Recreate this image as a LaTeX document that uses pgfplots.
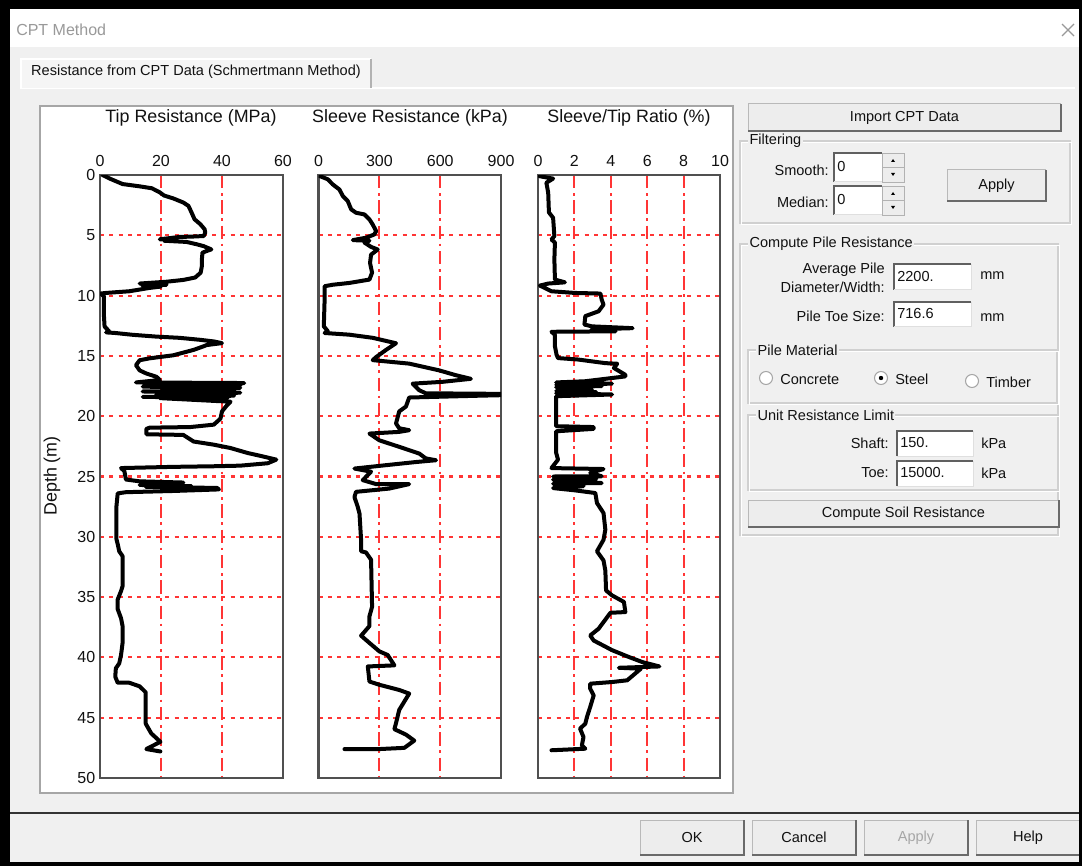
\documentclass[border=0pt]{standalone}
\usepackage{pgfplots}
\pgfplotsset{compat=1.18}
\usepackage{fontspec}
\setmainfont{Liberation Sans}
\definecolor{dlg}{HTML}{F0F0F0}
\definecolor{gridred}{HTML}{FF3535}
\definecolor{frame}{HTML}{505050}
\definecolor{grpline}{HTML}{D0D0D0}
\definecolor{btnface}{HTML}{EDEDED}
\definecolor{btnshadow}{HTML}{6A6A6A}
\definecolor{txt}{HTML}{111111}
\newcommand\dlgf{\fontsize{10.9}{12}\selectfont}
\newcommand\ttlf{\fontsize{13.4}{15}\selectfont}

\newcommand\btn[5]{%
  \fill[btnface] (#1,#2) rectangle (#3,#4);
  \draw[gray!55, line width=0.75pt] (#1,#4) -- (#1,#2) -- (#3,#2);
  \draw[btnshadow, line width=1.5pt] (#1,#4) -- (#3,#4) -- (#3,#2);
  \node[font=\dlgf, text=txt, inner sep=0pt] at ({(#1+#3)/2},{(#2+#4)/2}) {#5};
}
\newcommand\tbox[5]{%
  \fill[white] (#1,#2) rectangle (#3,#4);
  \draw[gray!75!black, line width=1.2pt] (#1,#4) -- (#1,#2) -- (#3,#2);
  \draw[gray!25, line width=0.75pt] (#1,#4) -- (#3,#4) -- (#3,#2);
  \node[font=\dlgf, text=txt, anchor=west, inner sep=0pt] at (#1+3,{(#2+#4)/2-1}) {#5};
}
\newcommand\grp[5]{%
  \draw[grpline, line width=0.9pt] (#1,#2) rectangle (#3,#4);
  \draw[white, line width=0.6pt] (#1+1.2,#2+1.2) rectangle (#3+1.2,#4+1.2);
  \node[font=\dlgf, text=txt, fill=dlg, anchor=west, inner xsep=1pt, inner ysep=0pt] at (#1+8,#2) {#5};
}
\newcommand\spin[3]{%
  \fill[btnface] (#1,#2) rectangle (#1+22,#3);
  \draw[gray!60, line width=0.6pt] (#1,#2) rectangle (#1+22,#3);
  \draw[gray!60, line width=0.6pt] (#1,{(#2+#3)/2}) -- (#1+22,{(#2+#3)/2});
  \fill[black] (#1+9,{#2+9}) -- (#1+13,{#2+9}) -- (#1+11,{#2+6}) -- cycle;
  \fill[black] (#1+9,{#3-9}) -- (#1+13,{#3-9}) -- (#1+11,{#3-6}) -- cycle;
}
\newcommand\radio[4]{%
  \fill[white] (#1,#2) circle (6.5);
  \draw[gray!70, line width=0.8pt] (#1,#2) circle (6.5);
  \ifnum#3=1 \fill[black] (#1,#2) circle (2.2); \fi
  \node[font=\dlgf, text=txt, anchor=west, inner sep=0pt] at (#1+14,#2+1) {#4};
}

\pgfplotsset{
  cptaxis/.style={
    scale only axis,
    anchor=north west,
    height=452.25pt,
    y dir=reverse,
    ymin=0, ymax=50,
    ytick={0,5,...,50},
    xticklabel pos=upper,
    major tick length=0pt,
    axis line style={draw=frame, line width=1.6pt},
    xmajorgrids, ymajorgrids,
    major grid style={draw=gridred, line width=1.6pt},
    x grid style={draw=gridred, line width=1.6pt, dash pattern=on 10pt off 3.5pt on 2pt off 3.5pt},
    y grid style={draw=gridred, line width=1.6pt, dash pattern=on 3pt off 4pt},
    ticklabel style={font=\fontsize{12}{14}\selectfont, text=txt},
    xticklabel style={yshift=3pt},
    /pgf/number format/assume math mode=true,
  },
  cptline/.style={draw=black, mark=none, line width=3pt, line join=round, line cap=round},
}

\begin{document}
\begin{tikzpicture}
\begin{scope}[x=0.75pt, y=-0.75pt]
\path[use as bounding box] (0,0) rectangle (1082,866);
% window background
\fill[dlg] (0,0) rectangle (1082,866);
\fill[white] (10,9) rectangle (1080,47);
\node[font=\fontsize{12}{14}\selectfont, text=gray!80, anchor=west, inner sep=0pt] at (16,30) {CPT Method};
\draw[gray!80, line width=0.9pt] (1062,24) -- (1074,36) (1062,36) -- (1074,24);
% tab
\draw[white, line width=0.8pt] (20,88) -- (1075,88);
\fill[gray!8] (21,59) rectangle (371,88);
\draw[white, line width=0.8pt] (21,88) -- (21,59) -- (371,59);
\draw[gray!60, line width=1.2pt] (371,59) -- (371,88);
\node[font=\dlgf, text=txt, inner sep=0pt] at (196,72) {Resistance from CPT Data (Schmertmann Method)};
% plot panel
\fill[white] (40,106) rectangle (733,793);
\draw[gray!70, line width=0.8pt] (40,106) rectangle (733,793);
% titles
\node[font=\ttlf, text=txt, inner sep=0pt] at (191,118) {Tip Resistance (MPa)};
\node[font=\ttlf, text=txt, inner sep=0pt] at (410,118) {Sleeve Resistance (kPa)};
\node[font=\ttlf, text=txt, inner sep=0pt] at (629,118) {Sleeve/Tip Ratio (\%)};
\node[font=\ttlf, text=txt, inner sep=0pt, rotate=90] at (52,476) {Depth (m)};
% right panel
\btn{748}{104}{1061}{131}{Import CPT Data}
\grp{740}{141}{1070}{223}{Filtering}
\node[font=\dlgf, text=txt, anchor=east, inner sep=0pt] at (829,170) {Smooth:};
\tbox{834}{153}{882}{182}{0}
\spin{882}{153}{182}
\node[font=\dlgf, text=txt, anchor=east, inner sep=0pt] at (829,202) {Median:};
\tbox{834}{186}{882}{215}{0}
\spin{882}{186}{215}
\btn{947}{170}{1046}{201}{Apply}
\grp{740}{244}{1058}{535}{Compute Pile Resistance}
\node[font=\dlgf, text=txt, anchor=east, inner sep=0pt] at (885,270) {Average Pile};
\node[font=\dlgf, text=txt, anchor=east, inner sep=0pt] at (885,287) {Diameter/Width:};
\tbox{894}{264}{971}{290}{2200.}
\node[font=\dlgf, text=txt, anchor=west, inner sep=0pt] at (980,276) {mm};
\node[font=\dlgf, text=txt, anchor=east, inner sep=0pt] at (885,316) {Pile Toe Size:};
\tbox{894}{302}{971}{327}{716.6}
\node[font=\dlgf, text=txt, anchor=west, inner sep=0pt] at (980,318) {mm};
\grp{748}{350}{1057}{403}{Pile Material}
\radio{766}{378}{0}{Concrete}
\radio{881}{378}{1}{Steel}
\radio{972}{381}{0}{Timber}
\grp{748}{415}{1058}{490}{Unit Resistance Limit}
\node[font=\dlgf, text=txt, anchor=east, inner sep=0pt] at (889,443) {Shaft:};
\tbox{897}{431}{973}{456}{150.}
\node[font=\dlgf, text=txt, anchor=west, inner sep=0pt] at (981,443) {kPa};
\node[font=\dlgf, text=txt, anchor=east, inner sep=0pt] at (889,473) {Toe:};
\tbox{897}{461}{973}{486}{15000.}
\node[font=\dlgf, text=txt, anchor=west, inner sep=0pt] at (981,473) {kPa};
\btn{748}{500}{1059}{527}{Compute Soil Resistance}
% bottom
\draw[gray!40!black, line width=2.2pt] (10,813) -- (1080,813);
\btn{640}{820}{744}{855}{OK}
\btn{752}{820}{856}{855}{Cancel}
\fill[btnface] (864,820) rectangle (968,855);
\draw[gray!55, line width=0.75pt] (864,855) -- (864,820) -- (968,820);
\draw[btnshadow, line width=1.5pt] (864,855) -- (968,855) -- (968,820);
\node[font=\dlgf, text=gray!70, inner sep=0pt] at (916,837.5) {Apply};
\btn{976}{820}{1080}{855}{Help}
% outer black frame
\fill[black] (0,0) rectangle (1082,9);
\fill[black] (0,0) rectangle (10,866);
\fill[black] (1079,0) rectangle (1082,866);
\fill[black] (0,862) rectangle (1082,866);
\end{scope}

% ---------- Tip resistance ----------
\begin{axis}[cptaxis, at={(75pt,-131.25pt)}, width=137.25pt,
  xmin=0, xmax=60, xtick={0,20,40,60}]
\addplot[cptline] coordinates {
(0.8,0) (3.5,0.33) (7.4,0.75) (13,0.94) (17,1.1) (19.6,1.44) (21,1.7) (24,1.94) (27.3,2.28) (29,2.56)
(30,3.1) (31,3.67) (32.9,4.08) (34.3,4.5) (34.5,4.78) (34,5.06) (30.7,5.1) (26,5.14) (19.6,5.33) (24,5.4)
(21,5.45) (28.4,5.55) (31.8,5.75) (34,5.9) (36.5,6.17) (35,6.3) (33.6,6.44) (33.4,7.0) (33.4,7.56) (33,8.1)
(31.2,8.5) (27.3,8.7) (21.8,8.85) (13,9.0) (21.8,9.1) (14,9.2) (20,9.25) (16.3,9.36) (9.6,9.64) (1.9,9.78)
(0.2,9.83) (1.3,10.06) (1.3,11.7) (1.5,12.56) (2.4,12.8) (3,12.97) (2,13.05) (5,13.1) (10.7,13.25) (18.5,13.4)
(26,13.5) (33,13.67) (37.3,13.8) (40,13.94) (35,14.1) (34,14.2) (30.7,14.5) (24,14.95) (16.3,15.2) (13,15.36)
(11.8,15.77) (13,16.2) (15.2,16.46) (18.5,16.73) (19.6,17.0) (11.8,17.2) (47.3,17.25) (20,17.35) (46,17.45) (14,17.55)
(46,17.65) (25,17.75) (44,17.85) (14,17.95) (46,18.05) (18.5,18.2) (44,18.3) (14,18.4) (42,18.45) (19.6,18.5)
(42.8,18.8) (41.7,19.07) (40,19.6) (39.5,20.2) (37.3,20.7) (29.6,20.9) (16.3,20.95) (15.2,21.05) (15.2,21.5) (27.3,21.55)
(30.7,22.1) (37.3,22.36) (42.8,22.64) (48.4,23.05) (52.8,23.3) (57.8,23.6) (55,23.9) (46,24.1) (37.3,24.15) (24,24.2)
(6.9,24.3) (8,24.56) (8.5,25.25) (13,25.4) (27.3,25.5) (13,25.7) (30,25.8) (15,25.85) (38.4,25.95) (39,26.07)
(24,26.2) (8.5,26.3) (5.8,26.4) (5.4,27.45) (5.4,30.2) (5.8,30.6) (6.3,31.2) (7.4,31.6) (7.4,34.1) (6.9,34.5)
(5.8,35.2) (5.8,36) (6.9,36.75) (7.4,37.4) (7.4,38.8) (6.9,39.8) (6.3,40.5) (5.2,40.9) (5,41.6) (5.8,42.1)
(9.6,42.1) (13,42.4) (15,42.9) (15,45.5) (16.8,46.3) (19.8,47.0) (15.2,47.6) (19.8,47.8)
};
\end{axis}

% ---------- Sleeve resistance ----------
\begin{axis}[cptaxis, at={(238.9pt,-131.25pt)}, width=136.9pt,
  xmin=0, xmax=900, xtick={0,300,600,900}, yticklabels={}]
\addplot[cptline] coordinates {
(5,0.08) (46,0.36) (70,0.78) (103,1.2) (120,1.75) (144,2.16) (161,2.85) (185,3.13) (226,3.27) (251,3.68)
(267,4.1) (284,4.65) (275,4.93) (234,5.2) (169,5.4) (251,5.45) (226,5.6) (259,5.96) (292,6.18) (259,6.6)
(254,7.3) (264,8.1) (251,8.67) (152,8.95) (70,9.1) (30,9.22) (30,10.33) (26,12.55) (46,12.96) (30,13.1)
(152,13.24) (267,13.5) (382,13.95) (333,14.5) (284,15.1) (267,15.35) (447,15.64) (595,16.2) (677,16.6) (751,16.9)
(611,17.15) (464,17.3) (497,17.85) (529,18.1) (920,18.15) (920,18.25) (792,18.3) (447,18.45) (431,19.2) (398,19.6)
(382,20.6) (398,21) (447,21.16) (398,21.3) (251,21.44) (300,22) (398,22.54) (497,23.1) (529,23.5) (579,23.65)
(480,23.8) (333,24.06) (177,24.34) (259,24.6) (218,25.3) (284,25.63) (447,25.63) (349,26) (185,26.27) (177,26.7)
(193,27.5) (202,28.07) (210,30.3) (210,31.2) (234,31.3) (259,31.9) (264,35.8) (251,36.6) (251,37.4) (210,38.2)
(251,38.8) (300,39.5) (341,39.8) (374,40.66) (243,40.75) (251,42) (300,42.27) (398,42.7) (447,43) (398,44.35)
(382,45.45) (374,45.95) (431,46.4) (472,46.9) (423,47.5) (300,47.6) (128,47.6)
};
\end{axis}

% ---------- Sleeve/Tip ratio ----------
\begin{axis}[cptaxis, at={(403.5pt,-131.25pt)}, width=136.5pt,
  xmin=0, xmax=10, xtick={0,2,4,6,8,10}, yticklabels={}]
\addplot[cptline] coordinates {
(0.09,0.1) (0.83,0.3) (0.46,0.64) (0.56,1.47) (0.6,3.1) (0.83,3.55) (0.9,5.07) (0.74,5.35) (0.93,5.6) (0.9,7)
(0.93,8.67) (1.48,8.9) (0.56,9.0) (0.1,9.17) (0.37,9.36) (0.74,9.64) (2.04,9.78) (3.43,9.83) (3.5,10.33) (3.6,10.75)
(3.33,11.3) (2.6,11.7) (2.55,12.4) (2.96,12.55) (5.2,12.7) (2.96,12.8) (4.26,12.96) (0.74,13.0) (0.93,13.24) (0.93,14.2)
(1.02,14.9) (1.1,15.18) (2.2,15.3) (3.7,15.6) (4.35,15.65) (4.17,16.0) (4.8,16.57) (4.8,16.7) (2.6,17.1) (1.0,17.2)
(4.07,17.3) (1.0,17.4) (3.5,17.5) (1.0,17.6) (2.96,17.8) (1.0,17.9) (3.2,18.0) (1.0,18.1) (4.07,18.2) (1.0,18.34)
(1.0,20.83) (3.06,20.9) (3.06,21.05) (1.0,21.25) (1.0,23.05) (1.1,23.6) (0.74,24.3) (3.6,24.38) (2.87,24.7) (3.5,24.98)
(0.83,25.0) (3.2,25.2) (0.83,25.26) (3.5,25.54) (0.83,25.6) (2.5,25.8) (0.83,25.96) (2.04,26.15) (3.15,26.37) (3.24,27.2)
(3.6,28.03) (3.7,29.4) (3.6,30.25) (3.24,31.2) (3.6,31.96) (3.7,32.8) (3.74,34.45) (4.07,34.86) (4.72,35.4) (4.8,36.24)
(3.98,36.3) (3.6,37.07) (3.33,37.62) (2.87,38.18) (3.06,38.6) (4.07,39.4) (5.0,39.97) (5.74,40.39) (6.67,40.75) (5.65,40.8)
(4.44,40.86) (5.65,40.94) (4.9,41.9) (4.07,42.04) (2.87,42.18) (2.87,42.6) (3.06,43.15) (2.87,44.1) (2.69,44.94) (2.6,45.5)
(2.31,45.9) (2.5,46.6) (2.41,47.3) (2.6,47.57) (0.74,47.7)
};
\end{axis}
\end{tikzpicture}
\end{document}
